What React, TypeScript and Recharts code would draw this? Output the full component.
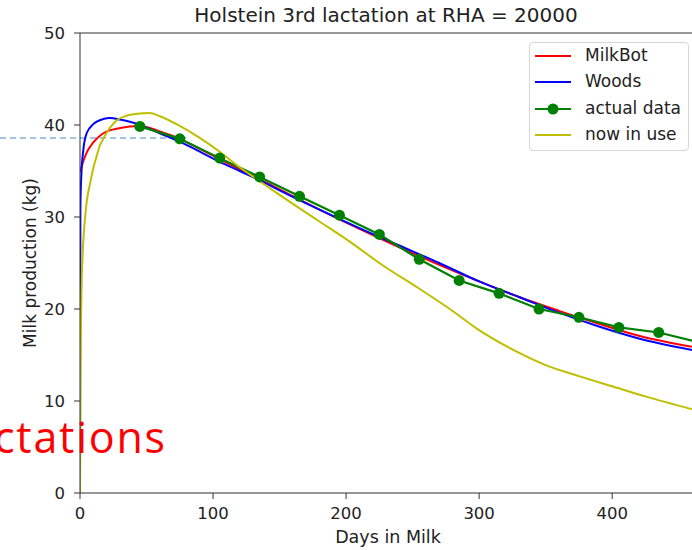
import { ComposedChart, Line, XAxis, YAxis, ReferenceLine } from 'recharts';

// days in milk / kg
const milkBotDays = [0, 1.25, 5, 10, 17.5, 27.5, 37.5, 45, 60, 75, 90, 105, 120, 135, 150, 180, 210, 240, 270, 300, 330, 360, 390, 420, 460];
const milkBotKg = [34.9, 35.5, 37.0, 38.1, 39.1, 39.6, 39.85, 39.9, 39.3, 38.5, 37.4, 36.3, 35.2, 34.1, 33.0, 30.8, 28.7, 26.7, 24.8, 23.0, 21.3, 19.8, 18.4, 17.1, 15.9];

const woodsDays = [0, 0.3, 1, 2.5, 5, 10, 17.5, 22.5, 30, 37.5, 45, 60, 75, 90, 105, 120, 135, 150, 180, 210, 240, 270, 300, 330, 360, 390, 420, 460];
const woodsKg = [0, 31, 34.5, 37.3, 39.1, 40.1, 40.65, 40.75, 40.6, 40.35, 40.0, 39.1, 38.2, 37.1, 36.0, 35.0, 34.0, 32.9, 30.8, 28.8, 26.9, 25.0, 23.0, 21.3, 19.6, 18.1, 16.8, 15.55];

const actualDays = [45, 75, 105, 135, 165, 195, 225, 255, 285, 315, 345, 375, 405, 435, 465];
const actualKg = [39.85, 38.5, 36.4, 34.35, 32.25, 30.2, 28.1, 25.4, 23.1, 21.7, 20.0, 19.1, 18.0, 17.45, 16.4];

const inUseDays = [0, 0.3, 1, 2, 3, 4, 5, 7.5, 10, 12.5, 15, 17.5, 22.5, 27.5, 35, 45, 52.5, 60, 75, 90, 105, 120, 135, 150, 178, 203, 228, 253, 278, 300, 325, 350, 375, 400, 425, 460];
const inUseKg = [0, 12, 21, 26, 28.5, 30.2, 31.6, 33.6, 35.3, 36.6, 37.8, 38.5, 39.7, 40.5, 41.0, 41.25, 41.3, 40.95, 39.9, 38.6, 37.1, 35.4, 33.9, 32.4, 29.7, 27.3, 24.7, 22.4, 20.0, 17.7, 15.6, 13.9, 12.7, 11.6, 10.5, 9.1];

const xTicks = [0, 100, 200, 300, 400];
const yTicks = [0, 10, 20, 30, 40, 50];

const seriesNames = ['MilkBot', 'Woods', 'actual data', 'now in use'];
const seriesColors = ['#ff0000', '#0000ff', '#008000', '#bfbf00'];

const toPoints = (days: number[], kg: number[]) => days.map((day, i) => ({ day, kg: kg[i] }));

const font = '"DejaVu Sans", sans-serif';

const App = () => {
  return (
    <div style={{ position: 'absolute', left: 0, top: 0, width: 692, height: 550, overflow: 'hidden', background: '#fff', fontFamily: font }}>
      {/* dashed slide guide line behind the chart */}
      <svg width={692} height={550} style={{ position: 'absolute', left: 0, top: 0 }}>
        <line x1={0} y1={138} x2={188} y2={138} stroke="#86b3de" strokeWidth={1.3} strokeDasharray="6 4" />
      </svg>
      <div style={{ position: 'absolute', left: 0, top: 0 }}>
        <ComposedChart width={692} height={550} margin={{ top: 33, right: 0, bottom: 0, left: 0 }}>
          <XAxis
            type="number"
            dataKey="day"
            domain={[0, 460]}
            ticks={xTicks}
            allowDataOverflow
            height={57}
            tickSize={6}
            tickMargin={8}
            stroke="#333"
            tick={{ fill: '#222', fontSize: 16.5, fontFamily: font }}
          />
          <YAxis
            type="number"
            domain={[0, 50]}
            ticks={yTicks}
            width={80}
            tickSize={6}
            tickMargin={9}
            stroke="#333"
            tick={{ fill: '#222', fontSize: 16.5, fontFamily: font }}
          />
          <ReferenceLine y={50} stroke="#333" strokeWidth={1} />
          <Line data={toPoints(milkBotDays, milkBotKg)} dataKey="kg" type="monotone" stroke={seriesColors[0]} strokeWidth={2} dot={false} isAnimationActive={false} />
          <Line data={toPoints(woodsDays, woodsKg)} dataKey="kg" type="monotone" stroke={seriesColors[1]} strokeWidth={2} dot={false} isAnimationActive={false} />
          <Line
            data={toPoints(actualDays, actualKg)}
            dataKey="kg"
            type="linear"
            stroke={seriesColors[2]}
            strokeWidth={2.2}
            dot={{ r: 5.5, fill: seriesColors[2], stroke: seriesColors[2], strokeWidth: 0 }}
            isAnimationActive={false}
          />
          <Line data={toPoints(inUseDays, inUseKg)} dataKey="kg" type="monotone" stroke={seriesColors[3]} strokeWidth={2} dot={false} isAnimationActive={false} />
        </ComposedChart>
      </div>

      {/* legend */}
      <div
        style={{
          position: 'absolute',
          left: 529,
          top: 42,
          width: 158,
          height: 107,
          border: '1px solid #d6d6d6',
          borderRadius: 4,
          background: 'rgba(255,255,255,0.85)',
        }}
      >
        {seriesNames.map((name, i) => (
          <div key={name} style={{ position: 'absolute', left: 0, top: i * 26.3, height: 26, width: 158 }}>
            <svg width={40} height={26} style={{ position: 'absolute', left: 4, top: 0 }}>
              <line x1={1} y1={13} x2={37} y2={13} stroke={seriesColors[i]} strokeWidth={2} />
              {i === 2 && <circle cx={19} cy={13} r={5.5} fill={seriesColors[i]} />}
            </svg>
            <span style={{ position: 'absolute', left: 55, top: 2, fontSize: 17, color: '#222', whiteSpace: 'nowrap' }}>{name}</span>
          </div>
        ))}
      </div>

      {/* titles, axis labels and slide text */}
      <svg width={692} height={550} style={{ position: 'absolute', left: 0, top: 0, pointerEvents: 'none' }}>
        <text x={386} y={22} textAnchor="middle" fontSize={20} fill="#222" fontFamily={font}>
          Holstein 3rd lactation at RHA = 20000
        </text>
        <text x={388} y={543} textAnchor="middle" fontSize={17.5} fill="#222" fontFamily={font}>
          Days in Milk
        </text>
        <text x={36} y={263} textAnchor="middle" fontSize={17} fill="#222" fontFamily={font} transform="rotate(-90 36 263)">
          Milk production (kg)
        </text>
        <text x={-6} y={453} fontSize={43} fill="#ff0000" fontFamily='"Open Sans", sans-serif' textLength={171} lengthAdjust="spacing">
          ctations
        </text>
      </svg>
    </div>
  );
};

export default App;
